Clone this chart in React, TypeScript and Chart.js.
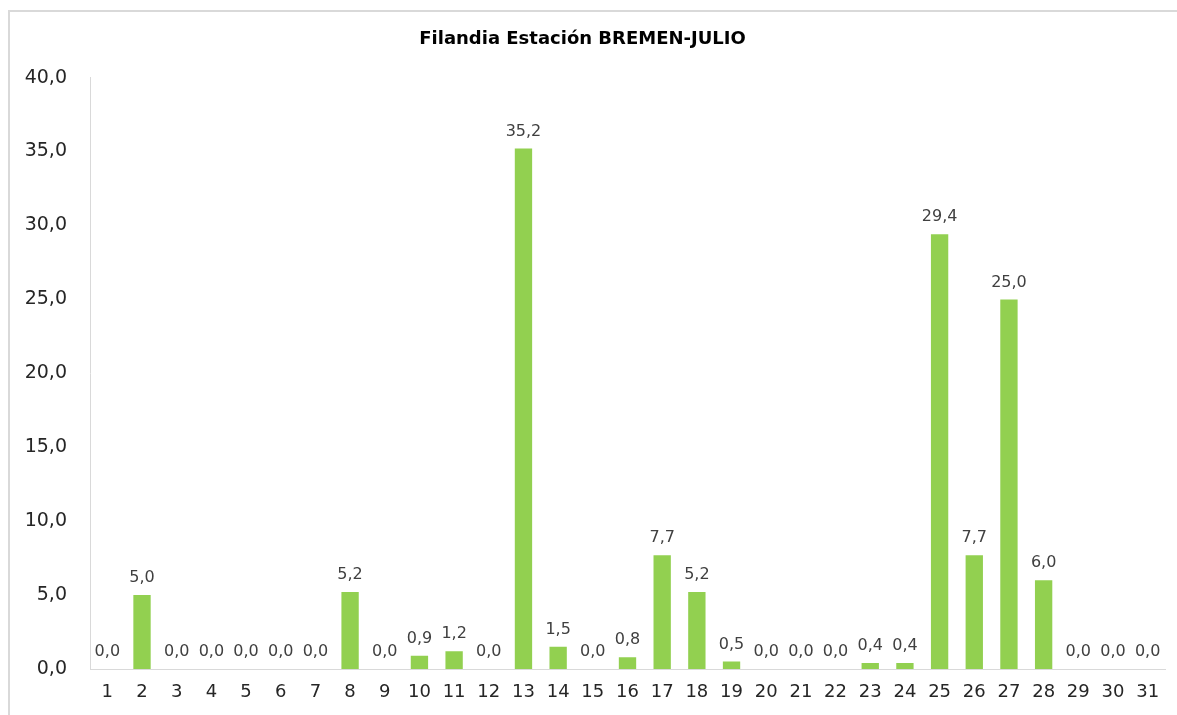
import React, { useEffect, useRef } from "react";
import { Chart, registerables } from "chart.js";

Chart.register(...registerables);

const days = Array.from({ length: 31 }, (_, i) => String(i + 1));
const rain = [
  0, 5.0, 0, 0, 0, 0, 0, 5.2, 0, 0.9, 1.2, 0, 35.2, 1.5, 0, 0.8, 7.7, 5.2, 0.5, 0,
  0, 0, 0.4, 0.4, 29.4, 7.7, 25.0, 6.0, 0, 0, 0,
];
const title = "Filandia Estación BREMEN-JULIO";
const fmt = (v: number) => v.toFixed(1).replace(".", ",");

const labelPlugin = {
  id: "valueLabels",
  afterDatasetsDraw(chart: any) {
    const ctx = chart.ctx;
    const meta = chart.getDatasetMeta(0);
    ctx.save();
    ctx.font = "16px 'DejaVu Sans'";
    ctx.fillStyle = "#404040";
    ctx.textAlign = "center";
    ctx.textBaseline = "bottom";
    meta.data.forEach((bar: any, i: number) => {
      ctx.fillText(fmt(rain[i]), bar.x, bar.y - 9);
    });
    ctx.restore();
  },
};

export default function App() {
  const ref = useRef<HTMLCanvasElement>(null);
  useEffect(() => {
    if (!ref.current) return;
    const chart = new Chart(ref.current, {
      type: "bar",
      data: {
        labels: days,
        datasets: [
          {
            data: rain,
            backgroundColor: "#92D050",
            barPercentage: 0.5,
            categoryPercentage: 1,
          },
        ],
      },
      options: {
        animation: false,
        responsive: false,
        layout: { padding: { left: 0, right: 12, top: 0, bottom: 0 } },
        plugins: {
          legend: { display: false },
          tooltip: { enabled: false },
          title: {
            display: true,
            text: title,
            color: "#000",
            font: { family: "'DejaVu Sans'", size: 18, weight: "bold" },
            padding: { top: 29, bottom: 27 },
          },
        },
        scales: {
          x: {
            grid: { display: false, drawTicks: false },
            border: { display: true, color: "#d9d9d9" },
            ticks: {
              color: "#262626",
              font: { family: "'DejaVu Sans'", size: 18 },
              padding: 13,
              maxRotation: 0,
              autoSkip: false,
            },
            afterFit: (s: any) => {
              s.height = 46;
            },
          },
          y: {
            min: 0,
            max: 40,
            grid: { display: false, drawTicks: false },
            border: { display: true, color: "#d9d9d9" },
            ticks: {
              stepSize: 5,
              color: "#262626",
              font: { family: "'DejaVu Sans'", size: 19 },
              padding: 23,
              callback: (v: any) => fmt(Number(v)),
            },
            afterFit: (s: any) => {
              s.width = 90;
            },
          },
        },
      },
      plugins: [labelPlugin],
    });
    return () => chart.destroy();
  }, []);

  return (
    <div
      style={{
        position: "fixed",
        left: 0,
        top: 0,
        width: 1177,
        height: 715,
        overflow: "hidden",
        background: "#fff",
      }}
    >
      <div
        style={{
          position: "absolute",
          left: 8,
          top: 10,
          width: 1200,
          height: 720,
          borderTop: "2px solid #d9d9d9",
          borderLeft: "2px solid #d9d9d9",
        }}
      />
      <canvas
        ref={ref}
        width={1177}
        height={715}
        style={{ position: "absolute", left: 0, top: 0 }}
      />
    </div>
  );
}
